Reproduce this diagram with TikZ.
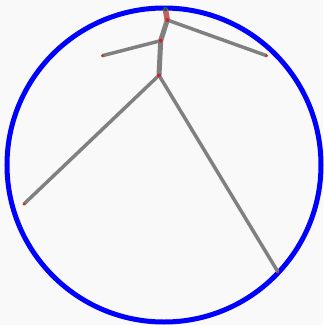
\documentclass[tikz,border=0pt]{standalone}
\definecolor{bgcol}{RGB}{249,249,249}
\definecolor{bonegray}{RGB}{128,128,128}
\definecolor{jointred}{RGB}{200,40,40}
\definecolor{headred}{RGB}{196,96,96}
\definecolor{tipteal}{RGB}{30,90,90}
\begin{document}
\begin{tikzpicture}[x=1pt, y=-1pt,
    bone/.style={draw=bonegray, line width=3.5pt},
    spine/.style={draw=bonegray, line width=5pt},
    joint/.style={circle, fill=jointred, inner sep=0pt, minimum size=4pt},
    tip/.style={circle, fill=jointred, inner sep=0pt, minimum size=3pt},
]
    \fill[bgcol] (0,0) rectangle (323,325);

    % Ring
    \draw[blue, line width=5pt] (164,165) circle[radius=157pt];

    % Joints
    \coordinate (top) at (165.3,9);
    \coordinate (neck) at (167.3,20);
    \coordinate (chest) at (160.7,40.7);
    \coordinate (hip) at (159,75.3);
    \coordinate (lhand) at (102.3,55.7);
    \coordinate (rhand) at (266.7,55.7);
    \coordinate (lfoot) at (24,204);
    \coordinate (rfoot) at (278,272);

    % Limbs
    \draw[bone] (hip) -- (lfoot);
    \draw[bone] (hip) -- (rfoot);
    \draw[bone] (chest) -- (lhand);
    \draw[bone] (neck) -- (rhand);
    \draw[spine] (hip) -- (chest) -- (neck);
    \draw[draw=headred, line width=5.5pt] (neck) -- (top);

    % Dots
    \node[joint] at (neck) {};
    \node[joint] at (chest) {};
    \node[joint] at (hip) {};
    \node[tip] at (lhand) {};
    \node[tip] at (rhand) {};
    \node[tip] at (lfoot) {};
    \node[tip] at (rfoot) {};
    \node[circle, fill=tipteal, inner sep=0pt, minimum size=4.5pt] at (top) {};
\end{tikzpicture}
\end{document}
